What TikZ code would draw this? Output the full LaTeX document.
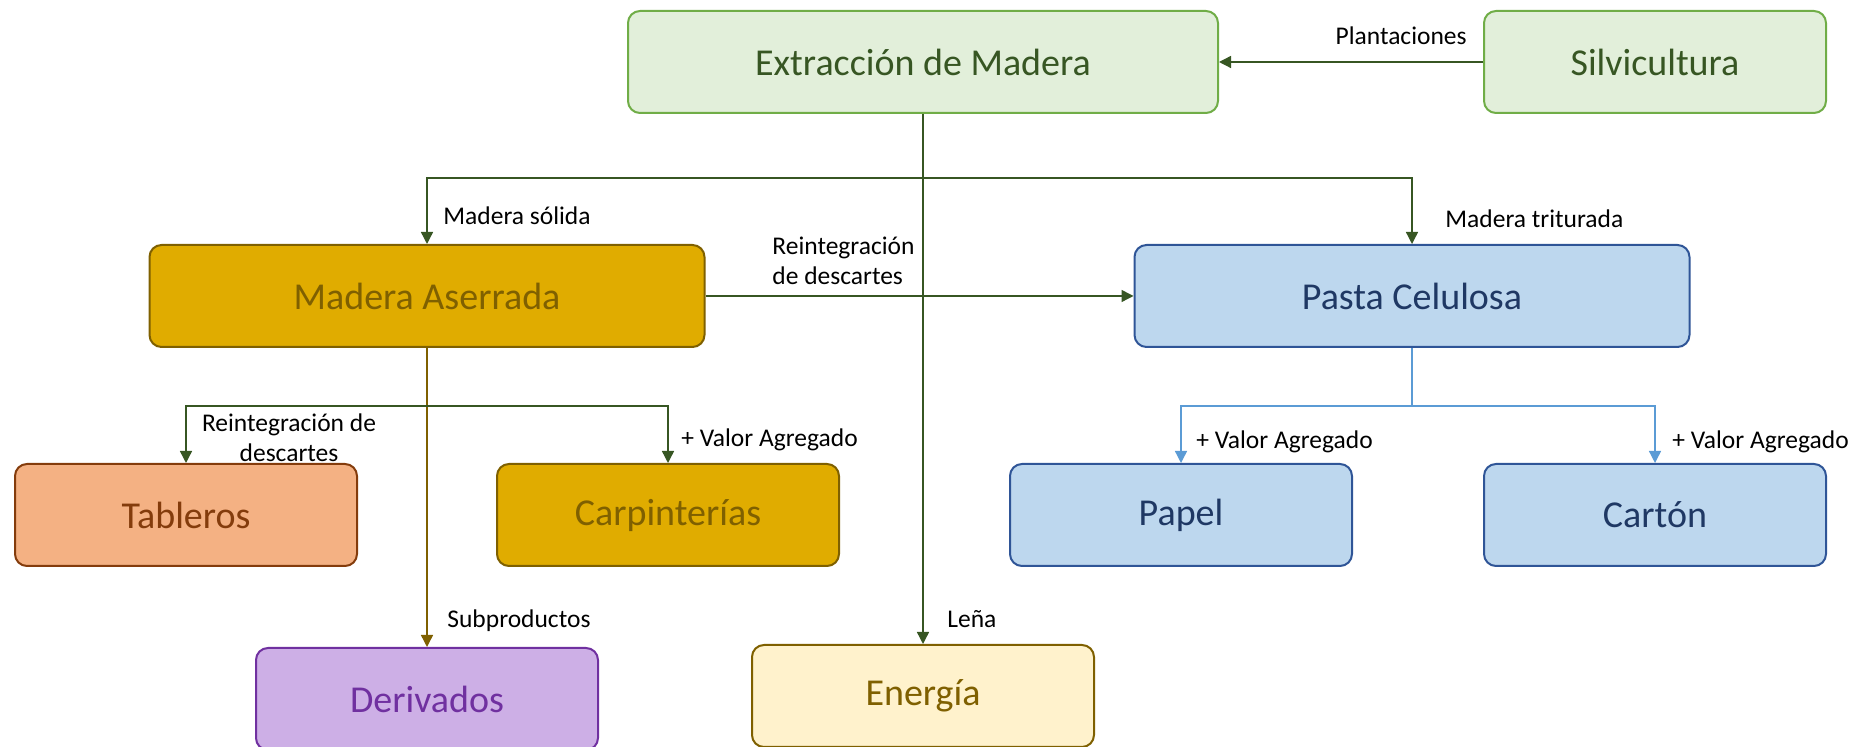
\documentclass[tikz,border=0pt]{standalone}
\usepackage{fontspec}
\setmainfont{Carlito}
\usepackage{xcolor}
\usetikzlibrary{arrows.meta,positioning}

\definecolor{verdeosc}{HTML}{375623}
\definecolor{verdeborde}{HTML}{70AD47}
\definecolor{verdefondo}{HTML}{E2EFDA}
\definecolor{oro}{HTML}{E0AC00}
\definecolor{oliva}{HTML}{7F6000}
\definecolor{celeste}{HTML}{BDD7EE}
\definecolor{azulosc}{HTML}{1F3864}
\definecolor{azulborde}{HTML}{2F5597}
\definecolor{azullinea}{HTML}{5B9BD5}
\definecolor{salmon}{HTML}{F4B183}
\definecolor{ladrillo}{HTML}{843C0C}
\definecolor{lila}{HTML}{CDAFE6}
\definecolor{morado}{HTML}{7030A0}
\definecolor{crema}{HTML}{FFF2CC}

\begin{document}
\begin{tikzpicture}[x=0.5pt,y=-0.5pt,
  caja/.style={draw,rounded corners=6pt,line width=1pt,minimum width=171pt,
    minimum height=51pt,inner sep=0pt,font=\fontsize{19}{23}\selectfont},
  ancha/.style={caja,minimum width=#1},
  cverde/.style={fill=verdefondo,draw=verdeborde,text=verdeosc},
  coro/.style={fill=oro,draw=oliva,text=oliva},
  cazul/.style={fill=celeste,draw=azulborde,text=azulosc},
  etiq/.style={font=\fontsize{12.75}{15}\selectfont,inner sep=0pt},
  linea/.style={line width=0.7pt,draw=verdeosc},
  flecha/.style={linea,-{Triangle[width=6pt,length=6pt]}},
  flechaoliva/.style={flecha,draw=oliva},
  flechaazul/.style={flecha,draw=azullinea}]

\useasboundingbox (0,0) rectangle (1863,747);

% cajas
\node[ancha=295pt,cverde] (extraccion) at (923,62) {Extracción de Madera};
\node[caja,cverde] (silvicultura) at (1655,62) {Silvicultura};
\node[ancha=277.5pt,coro] (aserrada) at (427,296) {Madera Aserrada};
\node[ancha=277.5pt,cazul] (pasta) at (1412,296) {Pasta Celulosa};
\node[caja,fill=salmon,draw=ladrillo,text=ladrillo] (tableros) at (186,515) {Tableros};
\node[caja,coro] (carpinterias) at (668,515) {Carpinterías};
\node[caja,cazul] (papel) at (1181,515) {Papel};
\node[caja,cazul] (carton) at (1655,515) {Cartón};
\node[caja,fill=lila,draw=morado,text=morado] (derivados) at (427,699) {Derivados};
\node[caja,fill=crema,draw=oliva,text=oliva] (energia) at (923,696) {Energía};

% puntos de reparto
\coordinate (rep1) at (923,178);
\coordinate (rep2) at (427,406);
\coordinate (rep3) at (1412,406);

% conectores
\draw[flecha] (silvicultura) -- (extraccion);
\draw[flecha] (extraccion.south) -- (energia.north);
\draw[flecha] (rep1) -| (aserrada.north);
\draw[flecha] (rep1) -| (pasta.north);
\draw[flecha] (aserrada) -- (pasta);
\draw[flechaoliva] (aserrada.south) -- (derivados.north);
\draw[flecha] (rep2) -| (tableros.north);
\draw[flecha] (rep2) -| (carpinterias.north);
\draw[linea,draw=azullinea] (pasta.south) -- (rep3);
\draw[flechaazul] (rep3) -| (papel.north);
\draw[flechaazul] (rep3) -| (carton.north);

% etiquetas
\node[etiq,anchor=east] (plantaciones) at (1467,36) {Plantaciones};
\node[etiq,anchor=west] (solida) at (443,216) {Madera sólida};
\node[etiq,anchor=west] (triturada) at (1445,219) {Madera triturada};
\node[etiq,anchor=west,align=left] (reint1) at (772,261) {Reintegración\\de descartes};
\node[etiq,align=center] (reint2) at (289,438) {Reintegración de\\descartes};
\node[etiq,anchor=west] (valor1) at (681,440) {+ Valor Agregado};
\node[etiq,anchor=west] (valor2) at (1196,442) {+ Valor Agregado};
\node[etiq,anchor=west] (valor3) at (1672,442) {+ Valor Agregado};
\node[etiq,anchor=west] (subprod) at (447,621) {Subproductos};
\node[etiq,anchor=west] (lena) at (947,619) {Leña};

\end{tikzpicture}
\end{document}
